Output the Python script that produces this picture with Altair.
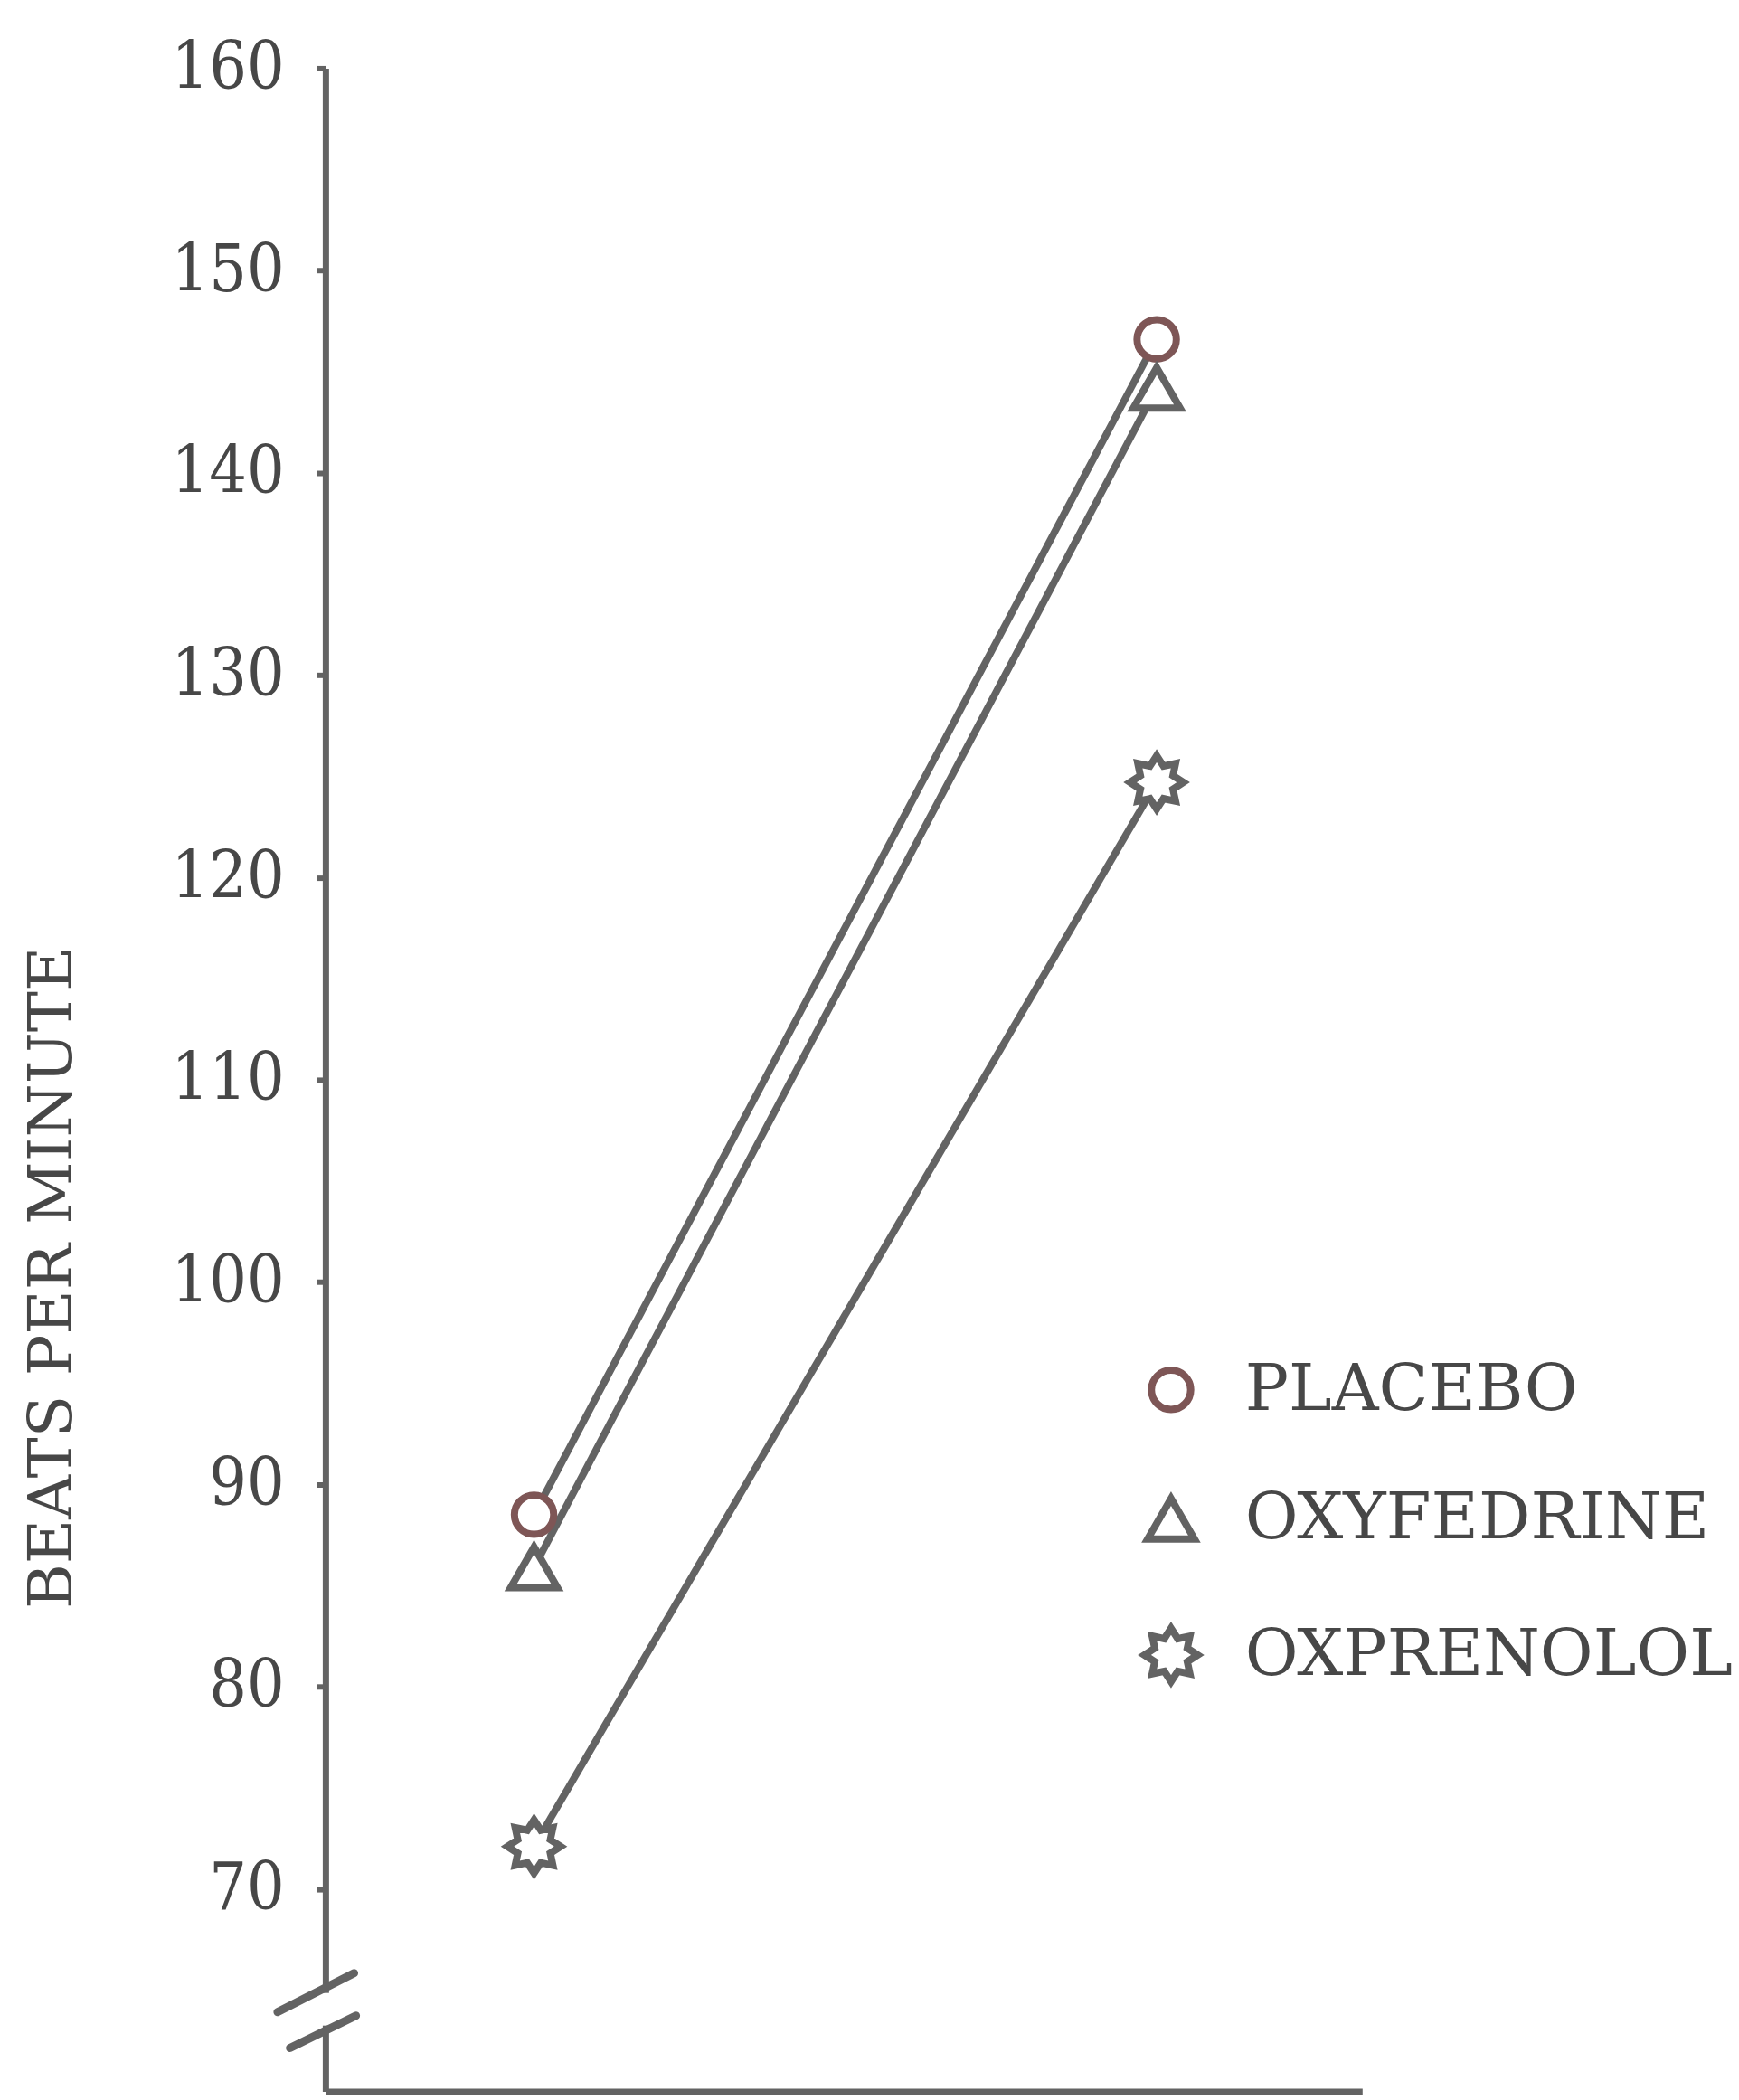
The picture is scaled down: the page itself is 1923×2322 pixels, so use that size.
import math
import altair as alt
import pandas as pd

# ---- data ----
SERIES = ["PLACEBO", "OXYFEDRINE", "OXPRENOLOL"]
STAGES = [1, 2]
PLACEBO = [88.5, 146.6]
OXYFEDRINE = [85.9, 144.2]
OXPRENOLOL = [72.1, 124.7]
Y_TICKS = [70, 80, 90, 100, 110, 120, 130, 140, 150, 160]
Y_TITLE = "BEATS PER MINUTE"

# axis-break decoration (data units)
BREAK_X = [0.588, 0.608]
BREAK_X2 = [0.711, 0.714]
BREAK_Y = [63.92, 62.14]
BREAK_Y2 = [65.84, 63.74]
GAP_Y = [64.86]
GAP_Y2 = [63.25]

X_DOMAIN = [0.665, 2.33]
Y_DOMAIN = [60, 160]

FONT = "DejaVu Serif"
TICK_FONT = "'DejaVu Serif Condensed', 'DejaVu Serif'"
GRAY = "#636363"
TEXT = "#474747"
PLACEBO_COL = "#7e5656"

rows = []
for name, vals in zip(SERIES, [PLACEBO, OXYFEDRINE, OXPRENOLOL]):
    for s, v in zip(STAGES, vals):
        rows.append({"series": name, "stage": s, "bpm": v})
df = pd.DataFrame(rows)

# sun-like 8-point star symbol
pts = []
for i in range(16):
    a = i * math.pi / 8 - math.pi / 2
    r = 1.0 if i % 2 == 0 else 0.66
    pts.append(f"{r*math.cos(a):.3f},{r*math.sin(a):.3f}")
SUN = "M" + "L".join(pts) + "Z"

xenc = alt.X("stage:Q", scale=alt.Scale(domain=X_DOMAIN, nice=False, zero=False),
             axis=alt.Axis(title=None, labels=False, ticks=False, grid=False,
                           domainColor=GRAY, domainWidth=7))
yenc = alt.Y("bpm:Q", scale=alt.Scale(domain=Y_DOMAIN, nice=False, zero=False),
             axis=alt.Axis(values=Y_TICKS, title=Y_TITLE, grid=False,
                           labelFont=TICK_FONT, labelFontSize=73, labelColor=TEXT,
                           labelPadding=36, tickSize=10, tickWidth=6, tickColor=GRAY,
                           domainColor=GRAY, domainWidth=7,
                           titleFont=FONT, titleFontSize=68, titleColor=TEXT,
                           titleFontWeight="normal", titleAngle=270,
                           titleX=-302, titleY=1341, titleAlign="center",
                           titleBaseline="middle"))

legend = alt.Legend(title=None, orient="none", legendX=902, legendY=1430,
                    labelFont=FONT, labelFontSize=72, labelColor=TEXT,
                    labelLimit=2000, symbolSize=1700, symbolStrokeWidth=8,
                    symbolFillColor="white", rowPadding=66, labelOffset=46, padding=0)

base = alt.Chart(df)

lines = base.mark_line(color=GRAY, strokeWidth=8).encode(
    x=xenc, y=yenc, detail="series:N")

points = base.mark_point(filled=False, fill="white", fillOpacity=1, opacity=1,
                         strokeWidth=8).encode(
    x=xenc, y=yenc,
    shape=alt.Shape("series:N",
                    scale=alt.Scale(domain=SERIES, range=["circle", "triangle-up", SUN]),
                    legend=legend),
    color=alt.Color("series:N", scale=alt.Scale(domain=SERIES,
                                                range=[PLACEBO_COL, GRAY, GRAY]),
                    legend=legend),
    size=alt.Size("series:O", scale=alt.Scale(domain=SERIES, range=[1900, 3500, 6000]),
                  legend=None),
)

gap_df = pd.DataFrame({"x": [X_DOMAIN[0]], "y": GAP_Y, "y2": GAP_Y2})
gap = alt.Chart(gap_df).mark_rule(color="white", strokeWidth=16).encode(
    x=alt.X("x:Q"), y=alt.Y("y:Q"), y2="y2:Q")

brk_df = pd.DataFrame({"x": BREAK_X, "x2": BREAK_X2, "y": BREAK_Y, "y2": BREAK_Y2})
brk = alt.Chart(brk_df).mark_rule(color=GRAY, strokeWidth=9, strokeCap="round").encode(
    x=alt.X("x:Q"), x2="x2:Q", y=alt.Y("y:Q"), y2="y2:Q")

chart = alt.layer(lines, points, gap, brk).properties(
    width=1150, height=2244,
    autosize=alt.AutoSizeParams(type="none"),
    padding={"left": 353, "top": 64, "right": 410, "bottom": 6},
    background="white",
).configure_view(stroke=None)

chart.save("out.html", embed_options={"renderer": "svg", "actions": False})
